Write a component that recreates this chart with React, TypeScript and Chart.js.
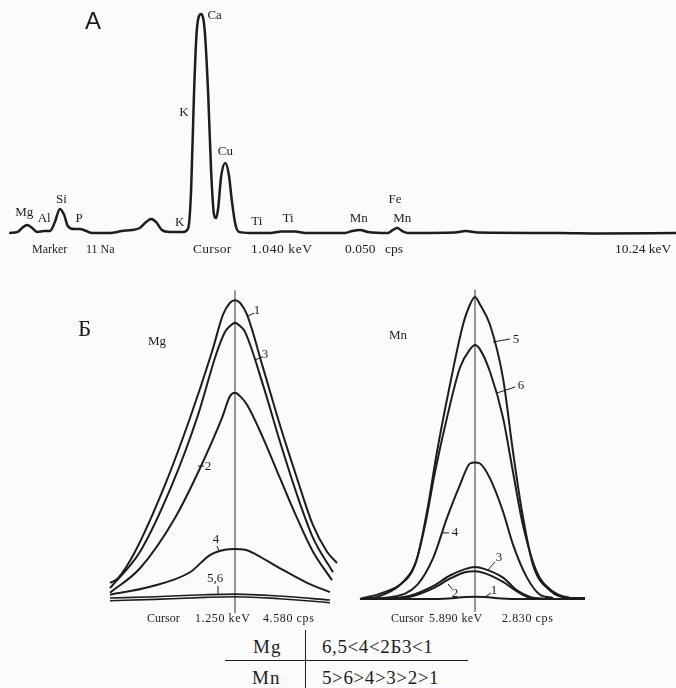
import { useEffect, useRef } from "react";
import { Chart, registerables } from "chart.js";

Chart.register(...registerables);

const INK = "#1d1d1d";
const SERIF = "'Liberation Serif', 'DejaVu Serif', serif";
const SANS = "'Liberation Sans', Arial, sans-serif";

// ---------- Panel A: survey spectrum (keV, relative counts) ----------
const spectrumKev = [1.0, 1.12, 1.18, 1.25, 1.32, 1.39, 1.49, 1.57, 1.64, 1.71, 1.77, 1.82, 1.91, 1.99, 2.08, 2.16, 2.41, 2.58, 2.72, 2.83, 2.92, 2.99, 3.06, 3.14, 3.25, 3.44, 3.51, 3.55, 3.59, 3.63, 3.69, 3.74, 3.79, 3.83, 3.87, 3.9, 3.93, 3.97, 4.03, 4.08, 4.12, 4.17, 4.22, 4.38, 4.66, 4.82, 5.01, 5.15, 5.71, 5.81, 5.92, 6.03, 6.31, 6.38, 6.44, 6.51, 6.59, 7.25, 7.4, 7.57, 8.72, 9.28, 10.35];
const spectrumCounts = [0, 0.5, 2.3, 3.7, 2.3, 0.5, 0.9, 0.9, 5.0, 11.0, 8.2, 3.2, 1.8, 1.8, 0.9, 0, 0, 0.9, 1.4, 2.3, 5.0, 6.4, 5.0, 1.4, 0.5, 0.5, 2.3, 19.6, 63, 92.7, 100, 92.7, 63, 28.8, 8.7, 6.8, 11.4, 25.6, 32.0, 26.5, 15.1, 4.1, 0.5, 0, 0, 0.7, 0.7, 0, 0, 0.9, 1.4, 0.5, 0, 1.4, 2.3, 0.9, 0, 0.2, 0.9, 0.2, 0, -0.2, 0];
const spectrumLineNames = ["Mg", "Al", "Si", "P", "K", "K", "Ca", "Cu", "Ti", "Ti", "Mn", "Fe", "Mn"];
const spectrumLineKev = [1.21, 1.49, 1.73, 1.98, 3.39, 3.45, 3.88, 4.03, 4.47, 4.91, 5.9, 6.41, 6.51];
const spectrumLineLevel = [9.1, 6.4, 15.1, 6.4, 4.6, 54.8, 99.5, 37.0, 5.0, 6.4, 6.4, 15.1, 6.4];

// ---------- Panel Б, Mg line (keV, cps) ----------
const mg1Kev = [1.125, 1.133, 1.15, 1.18, 1.205, 1.227, 1.238, 1.245, 1.25, 1.255, 1.262, 1.278, 1.295, 1.312, 1.328, 1.342, 1.352];
const mg1Cps = [0.29, 0.36, 0.76, 1.77, 2.78, 3.78, 4.34, 4.52, 4.56, 4.52, 4.34, 3.54, 2.67, 1.87, 1.16, 0.76, 0.59];
const mg3Kev = [1.125, 1.155, 1.187, 1.212, 1.232, 1.24, 1.245, 1.25, 1.255, 1.26, 1.278, 1.295, 1.312, 1.328, 1.348];
const mg3Cps = [0.21, 0.76, 1.77, 2.78, 3.78, 4.08, 4.17, 4.22, 4.17, 4.08, 3.28, 2.42, 1.62, 0.97, 0.45];
const mg2Kev = [1.125, 1.155, 1.19, 1.215, 1.237, 1.245, 1.25, 1.255, 1.262, 1.278, 1.295, 1.312, 1.328, 1.347];
const mg2Cps = [0.14, 0.51, 1.27, 2.02, 2.78, 3.11, 3.16, 3.11, 2.98, 2.48, 1.87, 1.27, 0.76, 0.33];
const mg4Kev = [1.125, 1.165, 1.205, 1.225, 1.24, 1.25, 1.26, 1.272, 1.295, 1.322, 1.345];
const mg4Cps = [0.11, 0.23, 0.45, 0.71, 0.79, 0.8, 0.79, 0.71, 0.51, 0.29, 0.15];
const mg5Kev = [1.125, 1.17, 1.22, 1.25, 1.295, 1.345];
const mg5Cps = [0.06, 0.08, 0.11, 0.12, 0.09, 0.03];
const mg6Kev = [1.125, 1.17, 1.22, 1.25, 1.295, 1.345];
const mg6Cps = [0.02, 0.04, 0.07, 0.08, 0.05, -0.01];
const mgCursorKev = 1.25;
const mgCursorSpan = [-0.17, 4.71];
const mgCurveLabels = ["1", "3", "2", "4", "5,6", "Mg"];
const mgLabelKev = [1.272, 1.28, 1.223, 1.231, 1.23, 1.172];
const mgLabelCps = [4.4, 3.73, 2.05, 0.94, 0.35, 3.94];
const mgLeaders = [
  [1.263, 4.32, 1.269, 4.366],
  [1.27, 3.656, 1.277, 3.701],
  [1.213, 2.054, 1.219, 2.054],
  [1.232, 0.846, 1.234, 0.77],
  [1.233, 0.242, 1.233, 0.121],
];

// ---------- Panel Б, Mn line (keV, cps) ----------
const mn5Kev = [5.775, 5.798, 5.818, 5.832, 5.842, 5.852, 5.865, 5.878, 5.885, 5.89, 5.895, 5.905, 5.918, 5.928, 5.937, 5.948, 5.965, 5.985, 6.0];
const mn5Cps = [0, 0.06, 0.16, 0.38, 0.82, 1.38, 2.01, 2.57, 2.76, 2.83, 2.76, 2.57, 2.07, 1.38, 0.82, 0.32, 0.08, 0.01, 0.01];
const mn6Kev = [5.775, 5.792, 5.815, 5.83, 5.84, 5.85, 5.862, 5.875, 5.885, 5.89, 5.895, 5.905, 5.918, 5.928, 5.938, 5.952, 5.968, 5.985, 6.0];
const mn6Cps = [0, 0.02, 0.13, 0.32, 0.69, 1.19, 1.7, 2.17, 2.34, 2.38, 2.34, 2.13, 1.7, 1.19, 0.69, 0.25, 0.07, 0.01, 0];
const mn4Kev = [5.775, 5.808, 5.832, 5.848, 5.862, 5.875, 5.885, 5.89, 5.895, 5.905, 5.918, 5.928, 5.942, 5.955, 5.968];
const mn4Cps = [0, 0.02, 0.13, 0.38, 0.76, 1.07, 1.27, 1.28, 1.27, 1.13, 0.82, 0.51, 0.2, 0.04, 0.01];
const mn3Kev = [5.8, 5.825, 5.848, 5.865, 5.88, 5.89, 5.9, 5.918, 5.932, 5.945, 5.96];
const mn3Cps = [0, 0.03, 0.12, 0.22, 0.28, 0.3, 0.28, 0.2, 0.08, 0.02, 0];
const mn2Kev = [5.8, 5.825, 5.848, 5.865, 5.88, 5.89, 5.9, 5.918, 5.932, 5.945, 5.96];
const mn2Cps = [0, 0.02, 0.1, 0.19, 0.25, 0.26, 0.24, 0.16, 0.07, 0.01, 0];
const mn1Kev = [5.775, 5.85, 5.89, 5.93, 6.0];
const mn1Cps = [0, 0, 0.02, 0, 0];
const mnCursorKev = 5.89;
const mnCursorSpan = [-0.12, 2.9];
const mnCurveLabels = ["5", "6", "4", "3", "2", "1", "Mn"];
const mnLabelKev = [5.931, 5.936, 5.87, 5.914, 5.87, 5.909, 5.813];
const mnLabelCps = [2.43, 2.0, 0.62, 0.39, 0.05, 0.075, 2.47];
const mnLeaders = [
  [5.908, 2.409, 5.925, 2.437],
  [5.912, 1.931, 5.93, 1.987],
  [5.858, 0.619, 5.864, 0.619],
  [5.903, 0.272, 5.91, 0.347],
  [5.863, 0.141, 5.867, 0.094],
  [5.9, 0.019, 5.906, 0.056],
];

// ---------- Table below ----------
const tableElements = ["Mg", "Mn"];
const tableOrders = ["6,5<4<2Б3<1", "5>6>4>3>2>1"];

type Pt = { x: number; y: number };
const zip = (xs: number[], ys: number[]): Pt[] => xs.map((x, i) => ({ x, y: ys[i] }));

function curve(xs: number[], ys: number[], width = 2) {
  return {
    data: zip(xs, ys),
    borderColor: INK,
    borderWidth: width,
    pointRadius: 0,
    cubicInterpolationMode: "monotone" as const,
    fill: false,
  };
}

function cursor(x: number, span: number[]) {
  return {
    data: [
      { x, y: span[0] },
      { x, y: span[1] },
    ],
    borderColor: "#333",
    borderWidth: 1,
    pointRadius: 0,
    tension: 0,
    fill: false,
  };
}

function notesPlugin(names: string[], xs: number[], ys: number[], leaders: number[][], font: string) {
  return {
    id: "notes",
    afterDatasetsDraw(chart: any) {
      const { ctx, scales } = chart;
      const sx = scales.x;
      const sy = scales.y;
      ctx.save();
      ctx.strokeStyle = INK;
      ctx.lineWidth = 1;
      for (const l of leaders) {
        ctx.beginPath();
        ctx.moveTo(sx.getPixelForValue(l[0]), sy.getPixelForValue(l[1]));
        ctx.lineTo(sx.getPixelForValue(l[2]), sy.getPixelForValue(l[3]));
        ctx.stroke();
      }
      ctx.fillStyle = INK;
      ctx.font = font;
      ctx.textAlign = "center";
      ctx.textBaseline = "middle";
      names.forEach((t, i) => {
        ctx.fillText(t, sx.getPixelForValue(xs[i]), sy.getPixelForValue(ys[i]));
      });
      ctx.restore();
    },
  };
}

function makeChart(
  canvas: HTMLCanvasElement,
  datasets: any[],
  xr: number[],
  yr: number[],
  plugin: any
) {
  return new Chart(canvas, {
    type: "line",
    data: { datasets },
    options: {
      animation: false,
      responsive: false,
      events: [],
      layout: { padding: 0 },
      parsing: false as any,
      plugins: { legend: { display: false }, tooltip: { enabled: false } },
      scales: {
        x: { type: "linear", display: false, min: xr[0], max: xr[1] },
        y: { type: "linear", display: false, min: yr[0], max: yr[1] },
      },
    },
    plugins: [plugin],
  });
}

function Txt(props: { x: number; y: number; size: number; text: string; family?: string; spacing?: number }) {
  return (
    <div
      style={{
        position: "absolute",
        left: props.x,
        top: props.y,
        transform: "translateY(-50%)",
        fontSize: props.size,
        fontFamily: props.family || SERIF,
        color: INK,
        whiteSpace: "pre",
        lineHeight: 1,
        letterSpacing: props.spacing ?? 0,
      }}
    >
      {props.text}
    </div>
  );
}

export default function App() {
  const aRef = useRef<HTMLCanvasElement>(null);
  const mgRef = useRef<HTMLCanvasElement>(null);
  const mnRef = useRef<HTMLCanvasElement>(null);

  useEffect(() => {
    const charts: Chart[] = [];
    charts.push(
      makeChart(
        aRef.current!,
        [curve(spectrumKev, spectrumCounts, 2.5)],
        [0.87, 10.35],
        [-12.33, 106.39],
        notesPlugin(spectrumLineNames, spectrumLineKev, spectrumLineLevel, [], `13px ${SERIF}`)
      )
    );
    charts.push(
      makeChart(
        mgRef.current!,
        [
          curve(mg1Kev, mg1Cps),
          curve(mg3Kev, mg3Cps),
          curve(mg2Kev, mg2Cps),
          curve(mg4Kev, mg4Cps),
          curve(mg5Kev, mg5Cps, 1.6),
          curve(mg6Kev, mg6Cps, 1.6),
          cursor(mgCursorKev, mgCursorSpan),
        ],
        [1.115, 1.375],
        [-0.347, 4.864],
        notesPlugin(mgCurveLabels, mgLabelKev, mgLabelCps, mgLeaders, `13px ${SERIF}`)
      )
    );
    charts.push(
      makeChart(
        mnRef.current!,
        [
          curve(mn5Kev, mn5Cps),
          curve(mn6Kev, mn6Cps),
          curve(mn4Kev, mn4Cps),
          curve(mn3Kev, mn3Cps),
          curve(mn2Kev, mn2Cps),
          curve(mn1Kev, mn1Cps),
          cursor(mnCursorKev, mnCursorSpan),
        ],
        [5.755, 6.015],
        [-0.244, 2.99],
        notesPlugin(mnCurveLabels, mnLabelKev, mnLabelCps, mnLeaders, `13px ${SERIF}`)
      )
    );
    return () => charts.forEach((c) => c.destroy());
  }, []);

  return (
    <div
      style={{
        position: "absolute",
        left: 0,
        top: 0,
        width: 676,
        height: 688,
        background: "#fbfbfb",
        overflow: "hidden",
      }}
    >
      <canvas ref={aRef} width={676} height={260} style={{ position: "absolute", left: 0, top: 0 }} />
      <canvas ref={mgRef} width={260} height={345} style={{ position: "absolute", left: 100, top: 280 }} />
      <canvas ref={mnRef} width={260} height={345} style={{ position: "absolute", left: 340, top: 280 }} />

      <Txt x={85} y={21} size={24} text="А" family={SANS} />
      <Txt x={78} y={328} size={23} text="Б" />

      <Txt x={32} y={249} size={12} text="Marker" />
      <Txt x={86} y={249} size={12} text="11 Na" />
      <Txt x={193} y={249} size={13.5} text="Cursor" spacing={0.3} />
      <Txt x={251} y={249} size={13.5} text="1.040 keV" spacing={0.6} />
      <Txt x={345} y={249} size={13.5} text="0.050" />
      <Txt x={385} y={249} size={13.5} text="cps" />
      <Txt x={615} y={249} size={13.5} text="10.24 keV" />

      <Txt x={147} y={618} size={12} text="Cursor" />
      <Txt x={195} y={618} size={12} text="1.250 keV" spacing={0.6} />
      <Txt x={263} y={618} size={12} text="4.580 cps" spacing={0.6} />
      <Txt x={391} y={618} size={12} text="Cursor" />
      <Txt x={429} y={618} size={12} text="5.890 keV" spacing={0.4} />
      <Txt x={502} y={618} size={12} text="2.830 cps" spacing={0.6} />

      <div style={{ position: "absolute", left: 225, top: 660, width: 243, height: 0, borderTop: `1.5px solid ${INK}` }} />
      <div style={{ position: "absolute", left: 305, top: 630, width: 0, height: 58, borderLeft: `1.5px solid ${INK}` }} />
      <Txt x={253} y={646} size={19} text={tableElements[0]} spacing={1} />
      <Txt x={322} y={646} size={19} text={tableOrders[0]} spacing={0.6} />
      <Txt x={252} y={677} size={19} text={tableElements[1]} spacing={1} />
      <Txt x={322} y={677} size={19} text={tableOrders[1]} spacing={0.6} />
    </div>
  );
}
